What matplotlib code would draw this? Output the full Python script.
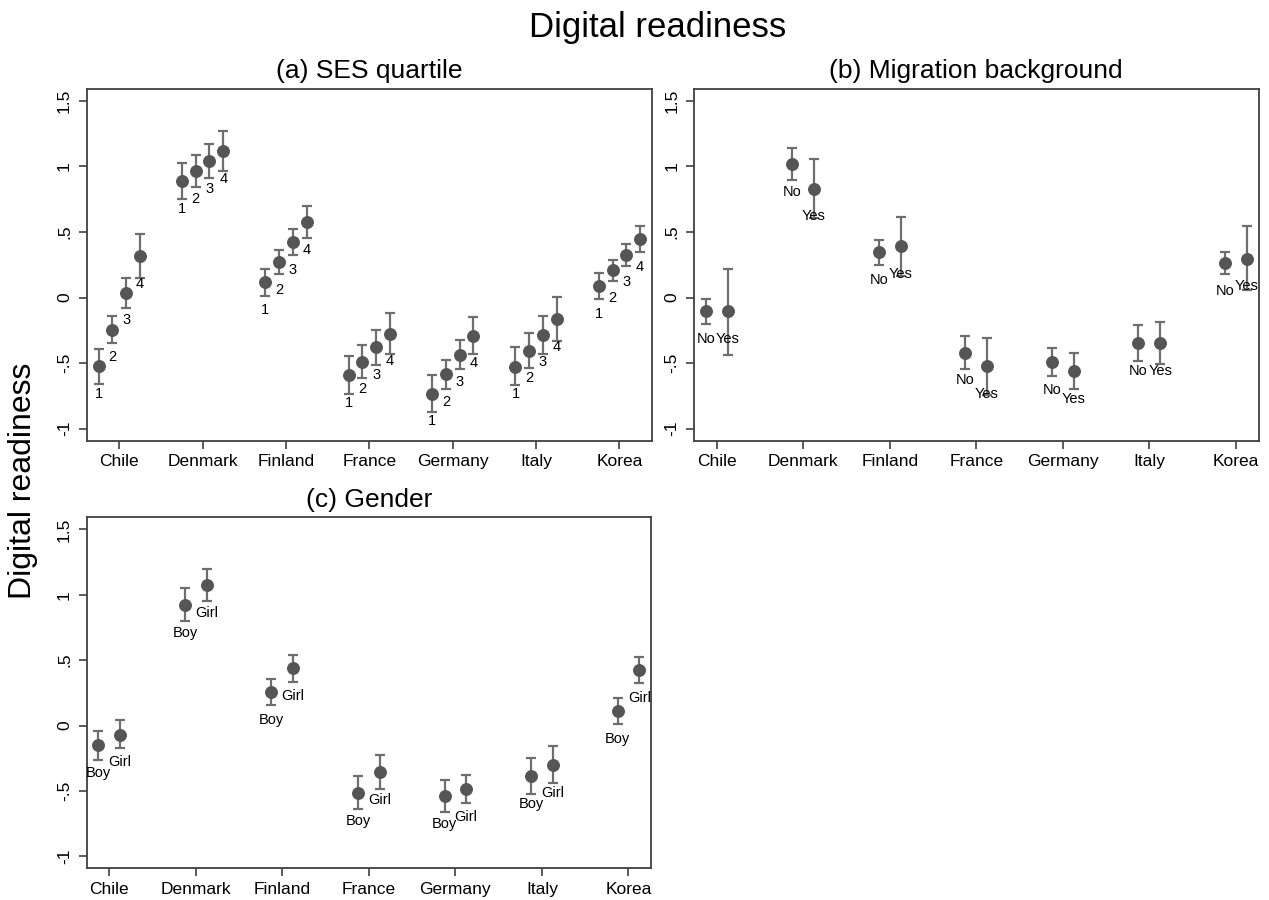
import matplotlib
matplotlib.use('Agg')
import matplotlib.pyplot as plt
import numpy as np

plt.rcParams['font.family'] = ['Liberation Sans', 'DejaVu Sans']

countries = ['Chile', 'Denmark', 'Finland', 'France', 'Germany', 'Italy', 'Korea']

# ---------------- (a) SES quartile: one row per country, quartile 1..4 ----------------
ses_labels = ['1', '2', '3', '4']
ses_est = [[-0.525, -0.245, 0.038, 0.317],
           [0.890, 0.966, 1.040, 1.116],
           [0.116, 0.269, 0.424, 0.577],
           [-0.590, -0.489, -0.379, -0.275],
           [-0.733, -0.585, -0.435, -0.290],
           [-0.527, -0.405, -0.283, -0.163],
           [0.086, 0.208, 0.328, 0.447]]
ses_lo = [[-0.660, -0.346, -0.079, 0.152],
          [0.752, 0.841, 0.913, 0.966],
          [0.015, 0.178, 0.325, 0.457],
          [-0.735, -0.613, -0.514, -0.430],
          [-0.870, -0.695, -0.547, -0.433],
          [-0.670, -0.537, -0.428, -0.331],
          [-0.013, 0.124, 0.244, 0.348]]
ses_hi = [[-0.390, -0.143, 0.150, 0.483],
          [1.027, 1.088, 1.172, 1.269],
          [0.218, 0.363, 0.523, 0.699],
          [-0.446, -0.359, -0.247, -0.117],
          [-0.593, -0.474, -0.324, -0.145],
          [-0.380, -0.273, -0.143, 0.002],
          [0.185, 0.289, 0.409, 0.546]]

# ---------------- (b) Migration background: No, Yes ----------------
mig_labels = ['No', 'Yes']
mig_est = [[-0.105, -0.105],
           [1.019, 0.831],
           [0.345, 0.394],
           [-0.420, -0.524],
           [-0.494, -0.560],
           [-0.346, -0.346],
           [0.264, 0.297]]
mig_lo = [[-0.204, -0.435],
          [0.897, 0.610],
          [0.251, 0.167],
          [-0.547, -0.740],
          [-0.601, -0.700],
          [-0.484, -0.509],
          [0.183, 0.055]]
mig_hi = [[-0.008, 0.221],
          [1.141, 1.055],
          [0.439, 0.617],
          [-0.290, -0.308],
          [-0.387, -0.423],
          [-0.209, -0.184],
          [0.345, 0.546]]

# ---------------- (c) Gender: Boy, Girl ----------------
gen_labels = ['Boy', 'Girl']
gen_est = [[-0.150, -0.069],
           [0.923, 1.075],
           [0.254, 0.437],
           [-0.514, -0.359],
           [-0.540, -0.486],
           [-0.387, -0.301],
           [0.109, 0.424]]
gen_lo = [[-0.260, -0.173],
          [0.796, 0.953],
          [0.157, 0.335],
          [-0.641, -0.489],
          [-0.659, -0.590],
          [-0.527, -0.443],
          [0.010, 0.325]]
gen_hi = [[-0.041, 0.040],
          [1.055, 1.200],
          [0.353, 0.539],
          [-0.385, -0.227],
          [-0.420, -0.379],
          [-0.250, -0.158],
          [0.208, 0.526]]

yticks = [-1, -0.5, 0, 0.5, 1, 1.5]
ytick_labels = ['-1', '-.5', '0', '.5', '1', '1.5']

frame_col = '#404040'
marker_col = '#555555'
bar_col = '#6e6e6e'


def draw_panel(ax, est, lo, hi, labels, offsets, xlim, title):
    est = np.array(est)
    lo = np.array(lo)
    hi = np.array(hi)
    base = np.arange(len(countries))
    for j, lab in enumerate(labels):
        x = base + offsets[j]
        y = est[:, j]
        ax.errorbar(x, y, yerr=[y - lo[:, j], hi[:, j] - y], fmt='none', ecolor=bar_col,
                    elinewidth=1.6, capsize=3.5, capthick=1.6, zorder=2)
        ax.plot(x, y, 'o', ms=8.3, color=marker_col, zorder=3)
        for xi, yi in zip(x, y):
            ax.annotate(lab, (xi, yi), xytext=(0, -20), textcoords='offset points',
                        ha='center', va='center', fontsize=10.5, zorder=4)
    ax.set_xlim(xlim)
    ax.set_ylim(-1.092, 1.592)
    ax.set_xticks(base)
    ax.set_xticklabels(countries)
    ax.set_yticks(yticks)
    ax.set_yticklabels(ytick_labels, rotation=90, va='center')
    ax.tick_params(direction='out', length=5.5, width=1.2, color=frame_col,
                   labelsize=12.5, pad=4)
    ax.tick_params(axis='y', pad=5)
    for sp in ax.spines.values():
        sp.set_color(frame_col)
        sp.set_linewidth(1.3)
    ax.annotate(title, (0.5, 1), xycoords='axes fraction', xytext=(0, 12.5),
                textcoords='offset points', ha='center', va='center', fontsize=19)


fig = plt.figure(figsize=(12.69, 9), dpi=100)

ax_a = fig.add_axes([0.0683, 0.5103, 0.4455, 0.3911])
draw_panel(ax_a, ses_est, ses_lo, ses_hi, ses_labels, [-0.2475, -0.0825, 0.0825, 0.2475],
           (-0.39, 6.39), '(a) SES quartile')

ax_b = fig.add_axes([0.5467, 0.5103, 0.4452, 0.3911])
draw_panel(ax_b, mig_est, mig_lo, mig_hi, mig_labels, [-0.125, 0.125],
           (-0.265, 6.265), '(b) Migration background')

ax_c = fig.add_axes([0.0683, 0.0352, 0.4447, 0.3900])
draw_panel(ax_c, gen_est, gen_lo, gen_hi, gen_labels, [-0.125, 0.125],
           (-0.26, 6.26), '(c) Gender')

fig.text(658 / 1269, 1 - 28 / 900, 'Digital readiness', ha='center', va='center', fontsize=25)
fig.text(23 / 1269, 1 - 481 / 900, 'Digital readiness', ha='center', va='center',
         rotation=90, fontsize=23)

fig.savefig('out.png', dpi=100)
